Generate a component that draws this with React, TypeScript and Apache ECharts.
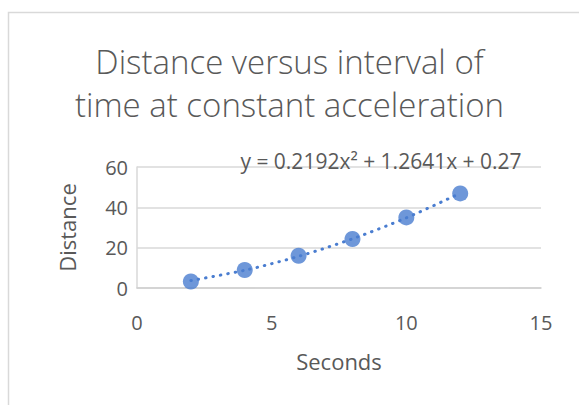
import React, { useEffect, useRef } from "react";
import * as echarts from "echarts";

const titleLines = ["Distance versus interval of", "time at constant acceleration"];
const seconds = [2, 4, 6, 8, 10, 12];
const distance = [3.2, 8.9, 16, 24.3, 35, 46.9];
const trendValues = [3.7, 8.8, 15.7, 24.4, 34.8, 47.0];
const equation = "y = 0.2192x² + 1.2641x + 0.27";
const xName = "Seconds";
const yName = "Distance";

const FONT = "'Open Sans', Lato, sans-serif";
const TEXT = "#595959";
const BLUE = "#4a7dd0";

export default function App() {
  const ref = useRef<HTMLDivElement>(null);
  useEffect(() => {
    document.body.style.margin = "0";
    const chart = echarts.init(ref.current!, null, { renderer: "svg" });
    chart.setOption({
      animation: false,
      backgroundColor: "#fff",
      textStyle: { fontFamily: FONT },
      title: {
        text: titleLines.join("\n"),
        left: "center",
        top: 35,
        textStyle: { fontFamily: FONT, fontSize: 33, fontWeight: 300, color: TEXT, lineHeight: 43 },
      },
      graphic: [
        {
          type: "rect",
          shape: { x: 8.5, y: 12.5, width: 700, height: 600 },
          style: { fill: "none", stroke: "#d9d9d9", lineWidth: 1.5 },
          silent: true,
          z: -1,
        },
        {
          type: "text",
          x: 381,
          y: 161,
          style: {
            text: equation,
            fontFamily: FONT,
            fontSize: 21,
            fill: TEXT,
            textAlign: "center",
            textVerticalAlign: "middle",
          },
          z: 10,
        },
      ],
      grid: { left: 137, top: 167, right: 38, bottom: 117 },
      xAxis: {
        type: "value",
        min: 0,
        max: 15,
        interval: 5,
        name: xName,
        nameLocation: "middle",
        nameGap: 62,
        nameTextStyle: { fontFamily: FONT, fontSize: 22, color: TEXT },
        axisLine: { show: true, lineStyle: { color: "#d0d0d0", width: 1.5 } },
        axisTick: { show: false },
        splitLine: { show: false },
        axisLabel: { fontFamily: FONT, fontSize: 20, color: TEXT, margin: 24 },
      },
      yAxis: {
        type: "value",
        min: 0,
        max: 60,
        interval: 20,
        name: yName,
        nameLocation: "middle",
        nameGap: 59,
        nameRotate: 90,
        nameTextStyle: { fontFamily: FONT, fontSize: 22, color: TEXT },
        axisLine: { show: true, lineStyle: { color: "#d9d9d9", width: 1.5 } },
        axisTick: { show: false },
        splitLine: { show: true, lineStyle: { color: "#d9d9d9", width: 1.5 } },
        axisLabel: { fontFamily: FONT, fontSize: 20, color: TEXT, margin: 9 },
      },
      series: [
        {
          type: "line",
          data: seconds.map((s, i) => [s, trendValues[i]]),
          smooth: 0.3,
          showSymbol: false,
          symbol: "none",
          lineStyle: { color: BLUE, width: 3, type: [0.5, 7], cap: "round" },
          z: 2,
        },
        {
          type: "scatter",
          data: seconds.map((s, i) => [s, distance[i]]),
          symbol: "circle",
          symbolSize: 16,
          itemStyle: { color: BLUE },
          z: 3,
        },
      ],
    });
    return () => chart.dispose();
  }, []);
  return (
    <div
      ref={ref}
      style={{ position: "absolute", left: 0, top: 0, width: 579, height: 405 }}
    />
  );
}
